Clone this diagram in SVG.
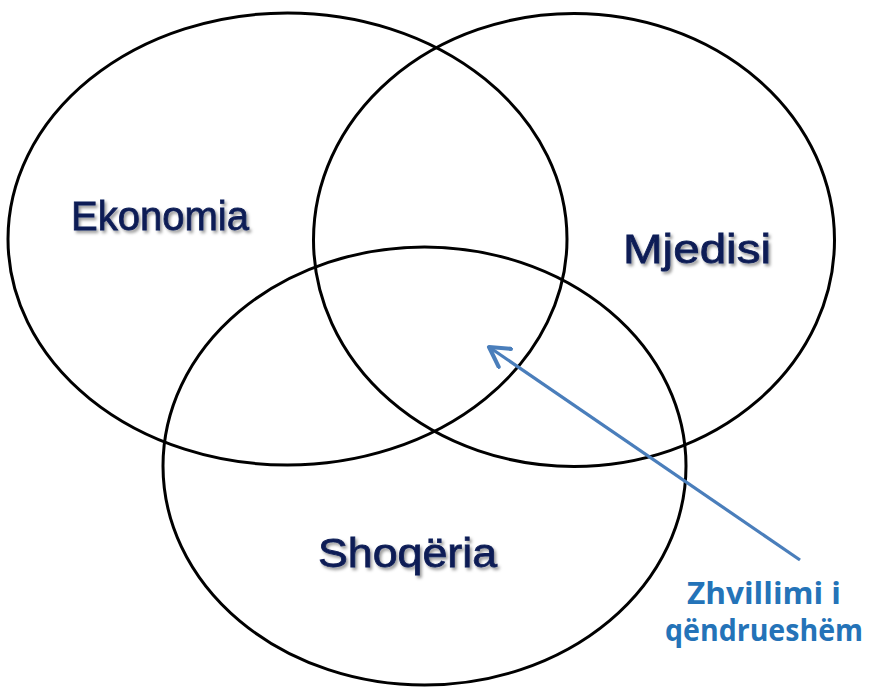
<svg xmlns="http://www.w3.org/2000/svg" width="883" height="697" viewBox="0 0 883 697">
<defs>
<style>
.c{fill:none;stroke:#000;stroke-width:3}
.t{font-family:"Liberation Sans",Arial,sans-serif;font-size:41px;fill:#0e1d56;stroke:#0e1d56;stroke-width:0.8}
.b{font-family:"Open Sans","Noto Sans",sans-serif;font-weight:700;font-size:30px;fill:#2473b8}
</style>
<filter id="sh" x="-10%" y="-20%" width="130%" height="150%">
<feDropShadow dx="2" dy="2.5" stdDeviation="1.5" flood-color="#000" flood-opacity="0.4"/>
</filter>
<marker id="ah" viewBox="0 0 20 20" refX="18" refY="10" markerWidth="8" markerHeight="8" markerUnits="strokeWidth" orient="auto">
<path d="M3,1.5 L18,10 L3,18.5" fill="none" stroke="#4a7ebb" stroke-width="3.2" stroke-linecap="round" stroke-linejoin="round"/>
</marker>
</defs>
<rect width="883" height="697" fill="#fff"/>
<g id="ekonomia">
<ellipse class="c" cx="287.5" cy="239" rx="279.5" ry="226"/>
<text class="t" x="71" y="230" textLength="178" lengthAdjust="spacingAndGlyphs" filter="url(#sh)">Ekonomia</text>
</g>
<g id="mjedisi">
<ellipse class="c" cx="574" cy="240" rx="260.5" ry="226.5"/>
<text class="t" x="623" y="263" textLength="148" lengthAdjust="spacingAndGlyphs" filter="url(#sh)">Mjedisi</text>
</g>
<g id="shoqeria">
<ellipse class="c" cx="424.5" cy="466" rx="261.5" ry="219"/>
<text class="t" x="318" y="567" textLength="179" lengthAdjust="spacingAndGlyphs" filter="url(#sh)">Shoqëria</text>
</g>
<g id="connectors">
<line x1="800" y1="560" x2="489" y2="347" stroke="#4a7ebb" stroke-width="3.2" marker-end="url(#ah)"/>
</g>
<g id="zhvillimi">
<text class="b" x="764" y="604" text-anchor="middle" textLength="154" lengthAdjust="spacingAndGlyphs">Zhvillimi i</text>
<text class="b" x="764" y="641" text-anchor="middle" textLength="198" lengthAdjust="spacingAndGlyphs">qëndrueshëm</text>
</g>
</svg>
